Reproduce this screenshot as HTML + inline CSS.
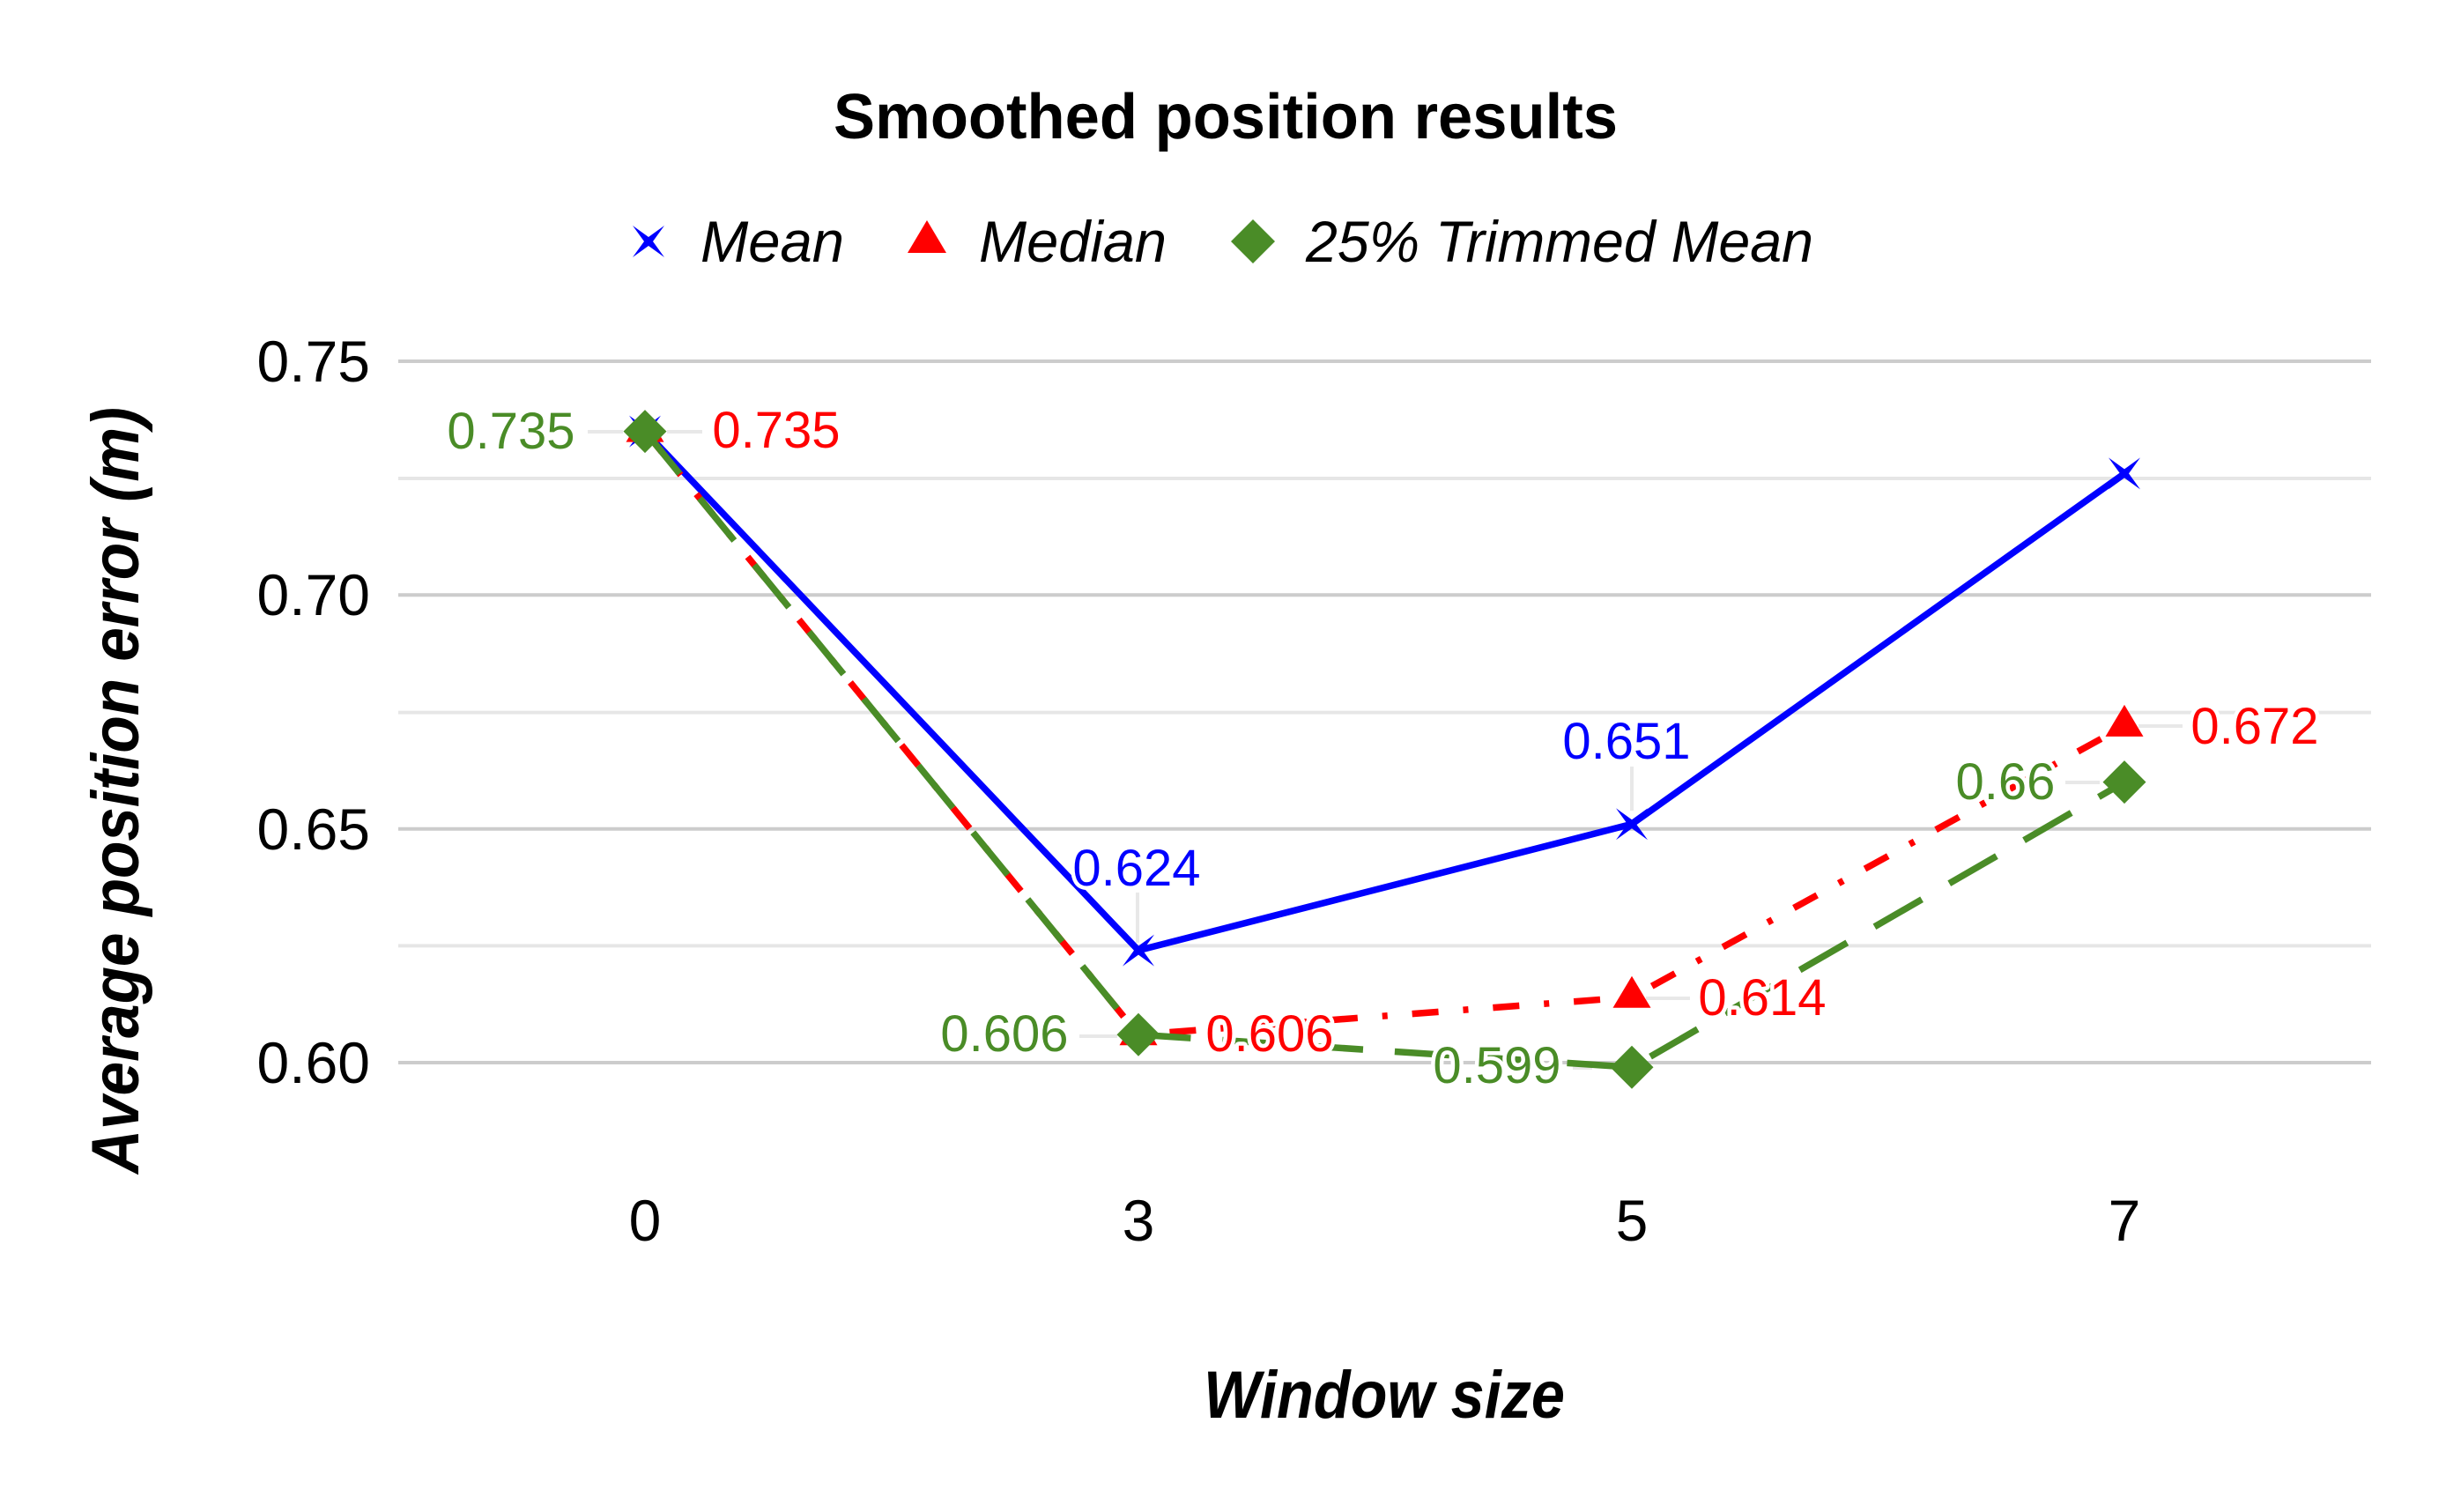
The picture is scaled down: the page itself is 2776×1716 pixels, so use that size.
<!DOCTYPE html>
<html>
<head>
<meta charset="utf-8">
<style>
  html, body { margin: 0; padding: 0; background: #ffffff; }
  svg { display: block; }
  text { font-family: "Liberation Sans", Arial, sans-serif; }
  .tick { font-size: 66px; fill: #000; }
  .lbl { font-size: 58px; paint-order: stroke; stroke: #ffffff; stroke-width: 9px; stroke-linejoin: round; }
</style>
</head>
<body>
<svg width="2776" height="1716" viewBox="0 0 2776 1716" xmlns="http://www.w3.org/2000/svg">
  <rect x="0" y="0" width="2776" height="1716" fill="#ffffff"/>

  <!-- Title -->
  <text x="1391" y="157" text-anchor="middle" font-size="72" font-weight="bold" fill="#000" textLength="890" lengthAdjust="spacingAndGlyphs">Smoothed position results</text>

  <!-- Legend -->
  <path d="M718,256 L736,269 L754,256 L741,274 L754,292 L736,279 L718,292 L731,274 Z" fill="#0000ff"/>
  <text x="795" y="297" font-size="66" font-style="italic" fill="#000" textLength="163" lengthAdjust="spacingAndGlyphs">Mean</text>
  <path d="M1052,250 L1074,287 L1030,287 Z" fill="#ff0000"/>
  <text x="1111" y="297" font-size="66" font-style="italic" fill="#000" textLength="213" lengthAdjust="spacingAndGlyphs">Median</text>
  <path d="M1422,249 L1447,274 L1422,299 L1397,274 Z" fill="#4a8c27"/>
  <text x="1482" y="297" font-size="66" font-style="italic" fill="#000" textLength="576" lengthAdjust="spacingAndGlyphs">25% Trimmed Mean</text>

  <!-- Gridlines -->
  <g stroke-width="4">
    <line x1="452" y1="543" x2="2691" y2="543" stroke="#e6e6e6"/>
    <line x1="452" y1="808.6" x2="2691" y2="808.6" stroke="#e6e6e6"/>
    <line x1="452" y1="1073.4" x2="2691" y2="1073.4" stroke="#e6e6e6"/>
    <line x1="452" y1="410" x2="2691" y2="410" stroke="#cccccc"/>
    <line x1="452" y1="675.3" x2="2691" y2="675.3" stroke="#cccccc"/>
    <line x1="452" y1="940.7" x2="2691" y2="940.7" stroke="#cccccc"/>
    <line x1="452" y1="1206" x2="2691" y2="1206" stroke="#cccccc"/>
  </g>

  <!-- Y tick labels -->
  <text class="tick" x="420" y="433" text-anchor="end">0.75</text>
  <text class="tick" x="420" y="698" text-anchor="end">0.70</text>
  <text class="tick" x="420" y="964" text-anchor="end">0.65</text>
  <text class="tick" x="420" y="1229" text-anchor="end">0.60</text>

  <!-- X tick labels -->
  <text class="tick" x="732" y="1408" text-anchor="middle">0</text>
  <text class="tick" x="1292" y="1408" text-anchor="middle">3</text>
  <text class="tick" x="1852" y="1408" text-anchor="middle">5</text>
  <text class="tick" x="2411" y="1408" text-anchor="middle">7</text>

  <!-- Axis titles -->
  <text x="1571" y="1609" text-anchor="middle" font-size="76" font-weight="bold" font-style="italic" fill="#000" textLength="410" lengthAdjust="spacingAndGlyphs">Window size</text>
  <text transform="translate(157,897) rotate(-90)" x="0" y="0" text-anchor="middle" font-size="76" font-weight="bold" font-style="italic" fill="#000" textLength="870" lengthAdjust="spacingAndGlyphs">Average position error (m)</text>

  <!-- Leader lines -->
  <g stroke="#e8e8e8" stroke-width="4">
    <line x1="667" y1="490" x2="707" y2="490"/>
    <line x1="757" y1="490" x2="797" y2="490"/>
    <line x1="1291" y1="1013" x2="1291" y2="1070"/>
    <line x1="1225" y1="1176" x2="1268" y2="1176"/>
    <line x1="1852" y1="870" x2="1852" y2="920"/>
    <line x1="1868" y1="1133" x2="1918" y2="1133"/>
    <line x1="1785" y1="1212" x2="1807" y2="1212"/>
    <line x1="2427" y1="824" x2="2477" y2="824"/>
    <line x1="2344" y1="888" x2="2383" y2="888"/>
  </g>

  <!-- Mean series -->
  <polyline points="732,489.6 1292,1078.6 1852,935.3 2411,537.4" fill="none" stroke="#0000ff" stroke-width="7.5" stroke-linejoin="round"/>
  <g fill="#0000ff">
    <path d="M714,471.6 L732,484.6 L750,471.6 L737,489.6 L750,507.6 L732,494.6 L714,507.6 L727,489.6 Z"/>
    <path d="M1274,1060.6 L1292,1073.6 L1310,1060.6 L1297,1078.6 L1310,1096.6 L1292,1083.6 L1274,1096.6 L1287,1078.6 Z"/>
    <path d="M1834,917.3 L1852,930.3 L1870,917.3 L1857,935.3 L1870,953.3 L1852,940.3 L1834,953.3 L1847,935.3 Z"/>
    <path d="M2393,519.4 L2411,532.4 L2429,519.4 L2416,537.4 L2429,555.4 L2411,542.4 L2393,555.4 L2406,537.4 Z"/>
  </g>

  <!-- Median series -->
  <polyline points="732,489.6 1292,1174.2 1852,1131.7 2411,823.9" fill="none" stroke="#ff0000" stroke-width="7.5" stroke-dasharray="30 28 6 28" stroke-linejoin="round"/>
  <g fill="#ff0000">
    <path d="M732,465.6 L753.5,501.6 L710.5,501.6 Z"/>
    <path d="M1292,1150.2 L1313.5,1186.2 L1270.5,1186.2 Z"/>
    <path d="M1852,1107.7 L1873.5,1143.7 L1830.5,1143.7 Z"/>
    <path d="M2411,799.9 L2432.5,835.9 L2389.5,835.9 Z"/>
  </g>

  <!-- Trimmed mean series -->
  <polyline points="732,489.6 1292,1174.2 1852,1211.3 2411,887.6" fill="none" stroke="#4a8c27" stroke-width="7.5" stroke-dasharray="62 36" stroke-linejoin="round"/>
  <g fill="#4a8c27">
    <path d="M732,465.1 L756.5,489.6 L732,514.1 L707.5,489.6 Z"/>
    <path d="M1292,1149.7 L1316.5,1174.2 L1292,1198.7 L1267.5,1174.2 Z"/>
    <path d="M1852,1186.8 L1876.5,1211.3 L1852,1235.8 L1827.5,1211.3 Z"/>
    <path d="M2411,863.1 L2435.5,887.6 L2411,912.1 L2386.5,887.6 Z"/>
  </g>

  <!-- Data labels -->
  <text class="lbl" x="580" y="509" text-anchor="middle" fill="#4a8c27">0.735</text>
  <text class="lbl" x="881" y="508" text-anchor="middle" fill="#ff0000">0.735</text>

  <text class="lbl" x="1290" y="1005" text-anchor="middle" fill="#0000ff">0.624</text>
  <text class="lbl" x="1140" y="1193" text-anchor="middle" fill="#4a8c27">0.606</text>
  <text class="lbl" x="1441" y="1193" text-anchor="middle" fill="#ff0000">0.606</text>

  <text class="lbl" x="1846" y="861" text-anchor="middle" fill="#0000ff">0.651</text>
  <text class="lbl" x="2000" y="1152" text-anchor="middle" fill="#ff0000">0.614</text>
  <text class="lbl" x="1699" y="1229" text-anchor="middle" fill="#4a8c27">0.599</text>

  <text class="lbl" x="2559" y="844" text-anchor="middle" fill="#ff0000">0.672</text>
  <text class="lbl" x="2276" y="907" text-anchor="middle" fill="#4a8c27">0.66</text>
</svg>
</body>
</html>
